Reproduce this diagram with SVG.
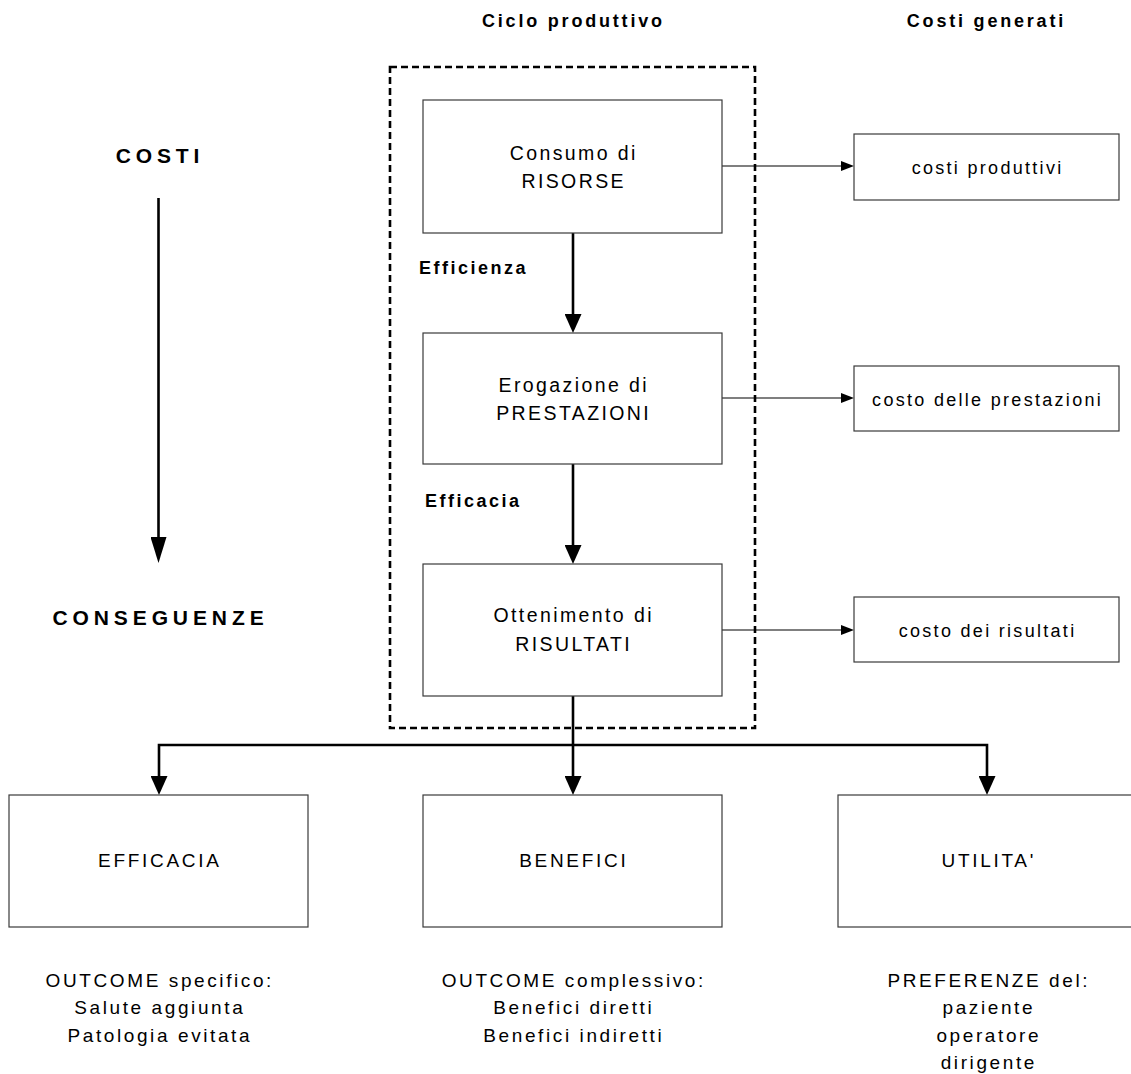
<svg xmlns="http://www.w3.org/2000/svg" width="1131" height="1074" viewBox="0 0 1131 1074">
  <style>
    text { font-family: "Liberation Sans", Arial, sans-serif; fill: #000; }
    .hdr { font-size: 18px; font-weight: bold; letter-spacing: 2.8px; text-anchor: middle; }
    .axis { font-size: 21px; font-weight: bold; letter-spacing: 4.9px; text-anchor: middle; }
    .lbl { font-size: 18px; font-weight: bold; letter-spacing: 2.5px; }
    .box { fill: #fff; stroke: #3a3a3a; stroke-width: 1.2; }
    .bt { font-size: 19.5px; letter-spacing: 2.4px; text-anchor: middle; }
    .ct { font-size: 18px; letter-spacing: 2.3px; text-anchor: middle; }
    .bl { font-size: 19px; letter-spacing: 2.7px; text-anchor: middle; }
    .ds { font-size: 19px; letter-spacing: 2.6px; text-anchor: middle; }
    .thick { fill: none; stroke: #000; stroke-width: 2.6; stroke-linejoin: miter; }
    .thin { fill: none; stroke: #000; stroke-width: 1.1; }
    .frame { fill: none; stroke: #000; stroke-width: 2.6; stroke-dasharray: 7 4; }
  </style>
  <defs>
    <marker id="headThick" markerUnits="userSpaceOnUse" markerWidth="19" markerHeight="17" refX="1" refY="8.5" orient="auto">
      <path d="M0,0 L19,8.5 L0,17 Z" fill="#000"/>
    </marker>
    <marker id="headLong" markerUnits="userSpaceOnUse" markerWidth="26" markerHeight="16" refX="1" refY="8" orient="auto">
      <path d="M0,0 L26,8 L0,16 Z" fill="#000"/>
    </marker>
    <marker id="headThin" markerUnits="userSpaceOnUse" markerWidth="13" markerHeight="10" refX="1" refY="5" orient="auto">
      <path d="M0,0 L13,5 L0,10 Z" fill="#000"/>
    </marker>
  </defs>

  <!-- column headings -->
  <text class="hdr" x="573.4" y="27">Ciclo produttivo</text>
  <text class="hdr" x="986.4" y="27">Costi generati</text>

  <!-- dashed frame around the production cycle -->
  <rect class="frame" x="390" y="67" width="365" height="661"/>

  <!-- left axis -->
  <g id="axis-costi">
    <text class="axis" x="160" y="163">COSTI</text>
  </g>
  <g id="axis-conseguenze">
    <text class="axis" x="160.5" y="625">CONSEGUENZE</text>
  </g>

  <!-- connectors -->
  <g id="connectors">
    <path class="thick" d="M158.5,198 V538" marker-end="url(#headLong)"/>
    <path class="thick" d="M573,233 V315" marker-end="url(#headThick)"/>
    <path class="thick" d="M573,464 V546" marker-end="url(#headThick)"/>
    <path class="thick" d="M573,696 V777" marker-end="url(#headThick)"/>
    <path class="thick" d="M573,745 H159 V777" marker-end="url(#headThick)"/>
    <path class="thick" d="M573,745 H987 V777" marker-end="url(#headThick)"/>
    <path class="thin" d="M722,166 H842" marker-end="url(#headThin)"/>
    <path class="thin" d="M722,398 H842" marker-end="url(#headThin)"/>
    <path class="thin" d="M722,630 H842" marker-end="url(#headThin)"/>
    <text class="lbl" x="419" y="274">Efficienza</text>
    <text class="lbl" x="425" y="507">Efficacia</text>
  </g>

  <!-- production cycle -->
  <g id="risorse">
    <rect class="box" x="423" y="100" width="299" height="133"/>
    <text class="bt" x="573.7" y="160">Consumo di</text>
    <text class="bt" x="573.7" y="188">RISORSE</text>
  </g>
  <g id="prestazioni">
    <rect class="box" x="423" y="333" width="299" height="131"/>
    <text class="bt" x="573.7" y="392">Erogazione di</text>
    <text class="bt" x="573.7" y="420">PRESTAZIONI</text>
  </g>
  <g id="risultati">
    <rect class="box" x="423" y="564" width="299" height="132"/>
    <text class="bt" x="573.7" y="622">Ottenimento di</text>
    <text class="bt" x="573.7" y="651">RISULTATI</text>
  </g>

  <!-- generated costs -->
  <g id="costi-produttivi">
    <rect class="box" x="854" y="134" width="265" height="66"/>
    <text class="ct" x="987.6" y="174">costi produttivi</text>
  </g>
  <g id="costo-prestazioni">
    <rect class="box" x="854" y="366" width="265" height="65"/>
    <text class="ct" x="987.6" y="405.5">costo delle prestazioni</text>
  </g>
  <g id="costo-risultati">
    <rect class="box" x="854" y="597" width="265" height="65"/>
    <text class="ct" x="987.6" y="637">costo dei risultati</text>
  </g>

  <!-- consequences -->
  <g id="efficacia">
    <rect class="box" x="9" y="795" width="299" height="132"/>
    <text class="bl" x="159.8" y="867">EFFICACIA</text>
    <text class="ds" x="159.8" y="987">OUTCOME specifico:</text>
    <text class="ds" x="159.8" y="1014">Salute aggiunta</text>
    <text class="ds" x="159.8" y="1042">Patologia evitata</text>
  </g>
  <g id="benefici">
    <rect class="box" x="423" y="795" width="299" height="132"/>
    <text class="bl" x="573.8" y="867">BENEFICI</text>
    <text class="ds" x="573.8" y="987">OUTCOME complessivo:</text>
    <text class="ds" x="573.8" y="1014">Benefici diretti</text>
    <text class="ds" x="573.8" y="1042">Benefici indiretti</text>
  </g>
  <g id="utilita">
    <rect class="box" x="838" y="795" width="299" height="132"/>
    <text class="bl" x="988.8" y="867">UTILITA'</text>
    <text class="ds" x="988.8" y="987">PREFERENZE del:</text>
    <text class="ds" x="988.8" y="1014">paziente</text>
    <text class="ds" x="988.8" y="1042">operatore</text>
    <text class="ds" x="988.8" y="1069">dirigente</text>
  </g>
</svg>
